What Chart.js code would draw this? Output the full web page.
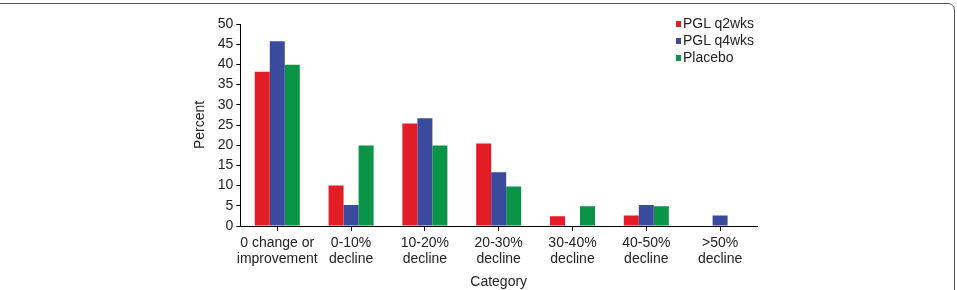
<!DOCTYPE html>
<html>
<head>
<meta charset="utf-8">
<script src="https://cdn.jsdelivr.net/npm/chart.js@4.4.1/dist/chart.umd.min.js"></script>
<style>
  html, body { margin: 0; padding: 0; background: #fff; }
  body { width: 957px; height: 290px; position: relative; overflow: hidden; font-family: "Liberation Sans", Arial, sans-serif; }
  #frame { position: absolute; left: -20px; top: 3px; width: 975px; height: 320px; border: 1.5px solid #555; border-radius: 7px; box-sizing: border-box; }
  #wrap { position: absolute; left: 0; top: 0; width: 957px; height: 293px; }
  #legend { position: absolute; left: 676px; top: 15px; list-style: none; margin: 0; padding: 0; font-size: 14px; color: #222; }
  #legend li { height: 17.2px; line-height: 17.2px; white-space: nowrap; }
  #legend .box { display: inline-block; width: 5px; height: 6px; margin-right: 2px; vertical-align: 1px; }
</style>
</head>
<body>
<div id="frame"></div>
<div id="wrap"><canvas id="chart" width="957" height="293"></canvas></div>
<ul id="legend"></ul>
<script>
const categories = [
  ["0 change or", "improvement"],
  ["0-10%", "decline"],
  ["10-20%", "decline"],
  ["20-30%", "decline"],
  ["30-40%", "decline"],
  ["40-50%", "decline"],
  [">50%", "decline"]
];
const seriesNames = ["PGL q2wks", "PGL q4wks", "Placebo"];
const seriesColors = ["#e31d25", "#3a4a9c", "#0a9447"];
const q2wks = [38.2, 10, 25.4, 20.4, 2.4, 2.6, 0];
const q4wks = [45.7, 5.2, 26.7, 13.3, 0, 5.2, 2.6];
const placebo = [39.9, 19.9, 19.9, 9.8, 4.9, 4.9, 0];
const yTicks = [0, 5, 10, 15, 20, 25, 30, 35, 40, 45, 50];

const seriesValues = [q2wks, q4wks, placebo];
const font = { family: "'Liberation Sans', Arial, sans-serif", size: 14 };

// legend drawn as html so it can sit inside the plot
const legend = document.getElementById("legend");
seriesNames.forEach((name, i) => {
  const li = document.createElement("li");
  li.innerHTML = `<span class="box" style="background:${seriesColors[i]}"></span>${name}`;
  legend.appendChild(li);
});

const ctx = document.getElementById("chart").getContext("2d");
new Chart(ctx, {
  type: "bar",
  data: {
    labels: categories,
    datasets: seriesNames.map((name, i) => ({
      label: name,
      data: seriesValues[i],
      backgroundColor: seriesColors[i],
      borderWidth: 0,
      categoryPercentage: 0.61,
      barPercentage: 1
    }))
  },
  options: {
    responsive: false,
    animation: false,
    layout: { padding: { left: 188, right: 200, top: 24, bottom: 2 } },
    plugins: {
      legend: { display: false },
      tooltip: { enabled: false }
    },
    scales: {
      x: {
        grid: { offset: false, drawOnChartArea: false, tickLength: 5, color: "#000" },
        border: { color: "#000", width: 1 },
        ticks: { color: "#222", font: { ...font, lineHeight: 1.15 }, maxRotation: 0, autoSkip: false, padding: 4 },
        title: { display: true, text: "Category", color: "#222", font, padding: { top: 3, bottom: 0 } }
      },
      y: {
        min: 0,
        max: 50,
        afterBuildTicks: axis => { axis.ticks = yTicks.map(v => ({ value: v })); },
        grid: { drawOnChartArea: false, tickLength: 4, color: "#000" },
        border: { color: "#000", width: 1 },
        ticks: { color: "#222", font, padding: 3, autoSkip: false },
        title: { display: true, text: "Percent", color: "#222", font, padding: { bottom: 6 } }
      }
    }
  }
});
</script>
</body>
</html>
